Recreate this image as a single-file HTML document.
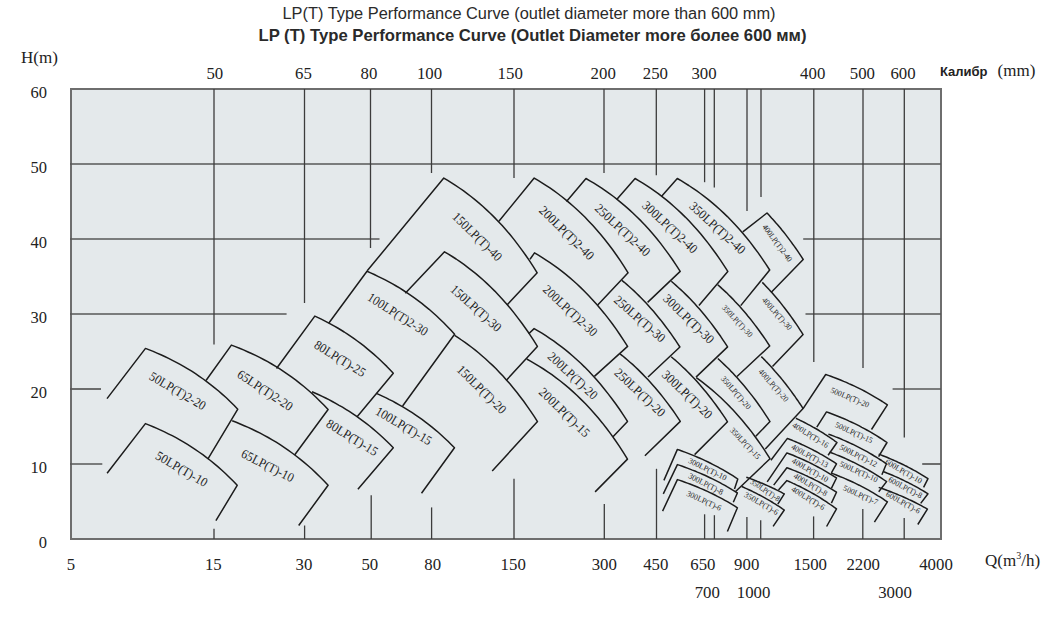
<!DOCTYPE html>
<html><head><meta charset="utf-8"><style>
html,body{margin:0;padding:0;background:#fff;}
body{width:1064px;height:621px;overflow:hidden;position:relative;}
svg{position:absolute;left:0;top:0;}
.t1{position:absolute;font-family:"Liberation Sans",sans-serif;color:#222;white-space:nowrap;}
</style></head><body>
<svg width="1064" height="621" viewBox="0 0 1064 621">
<rect x="71" y="89" width="870" height="450" fill="#e4e9eb" stroke="#6e6e6e" stroke-width="2"/>
<g stroke="#575757" stroke-width="1.7" fill="none">
<line x1="70" y1="164.0" x2="941" y2="164.0"/>
<line x1="70" y1="239.0" x2="379.5" y2="239.0"/>
<line x1="803.2" y1="239.0" x2="941" y2="239.0"/>
<line x1="70" y1="314.0" x2="286.6" y2="314.0"/>
<line x1="805.5" y1="314.0" x2="941" y2="314.0"/>
<line x1="70" y1="389.0" x2="101" y2="389.0"/>
<line x1="892.6" y1="389.0" x2="941" y2="389.0"/>
<line x1="70" y1="464.0" x2="102.3" y2="464.0"/>
<line x1="922.2" y1="464.0" x2="941" y2="464.0"/>
</g><g stroke="#3c3c3c" stroke-width="1.3" fill="none">
<line x1="214" y1="89" x2="214" y2="344.5"/>
<line x1="304.5" y1="89" x2="304.5" y2="303"/>
<line x1="370.5" y1="89" x2="370.5" y2="248"/>
<line x1="431.5" y1="89" x2="431.5" y2="173"/>
<line x1="514" y1="89" x2="514" y2="178"/>
<line x1="604" y1="89" x2="604" y2="173"/>
<line x1="656.3" y1="89" x2="656.3" y2="175.3"/>
<line x1="704.6" y1="89" x2="704.6" y2="182.2"/>
<line x1="714.3" y1="89" x2="714.3" y2="187.4"/>
<line x1="747" y1="89" x2="747" y2="211"/>
<line x1="761" y1="89" x2="761" y2="197"/>
<line x1="813.8" y1="89" x2="813.8" y2="362"/>
<line x1="863" y1="89" x2="863" y2="368"/>
<line x1="904.3" y1="89" x2="904.3" y2="437.6"/>
<line x1="214" y1="528.8" x2="214" y2="539"/>
<line x1="304.6" y1="525.5" x2="304.6" y2="539"/>
<line x1="371.2" y1="495.3" x2="371.2" y2="539"/>
<line x1="431.6" y1="507.4" x2="431.6" y2="539"/>
<line x1="514" y1="478.8" x2="514" y2="539"/>
<line x1="604.3" y1="504" x2="604.3" y2="539"/>
<line x1="656.5" y1="468.8" x2="656.5" y2="539"/>
<line x1="704.6" y1="514.3" x2="704.6" y2="539"/>
<line x1="714.4" y1="515.2" x2="714.4" y2="539"/>
<line x1="746.9" y1="517" x2="746.9" y2="539"/>
<line x1="760.7" y1="520.2" x2="760.7" y2="539"/>
<line x1="813.6" y1="516.4" x2="813.6" y2="539"/>
<line x1="862.8" y1="509.1" x2="862.8" y2="539"/>
<line x1="904.2" y1="518" x2="904.2" y2="539"/>
</g>
<g stroke="#1c1c1c" stroke-width="1.5" fill="none" stroke-linejoin="round">
<polyline points="107.0,398.6 145.5,348.4 149.3,349.9 153.2,351.4 157.0,353.1 160.9,354.8 164.7,356.5 168.6,358.4 172.4,360.3 176.3,362.3 180.1,364.4 184.0,366.6 187.8,368.9 191.7,371.2 195.5,373.7 199.3,376.3 203.2,379.0 207.0,381.8 210.9,384.8 214.7,387.8 218.6,391.0 222.4,394.4 226.3,397.8 230.1,401.5 234.0,405.3 237.8,409.2 207.8,459.1"/>
<polyline points="107.1,473.2 145.4,423.6 149.2,425.1 153.1,426.7 156.9,428.4 160.7,430.1 164.5,431.9 168.3,433.8 172.2,435.7 176.0,437.7 179.8,439.9 183.7,442.1 187.5,444.4 191.3,446.8 195.1,449.3 198.9,452.0 202.8,454.7 206.6,457.6 210.4,460.5 214.2,463.6 218.1,466.9 221.9,470.3 225.7,473.8 229.5,477.5 233.4,481.3 237.2,485.3 215.9,520.7"/>
<polyline points="206.0,380.5 231.4,345.1 235.4,346.6 239.5,348.2 243.5,349.9 247.5,351.7 251.5,353.5 255.6,355.4 259.6,357.4 263.6,359.5 267.7,361.7 271.7,364.0 275.7,366.4 279.8,368.9 283.8,371.6 287.8,374.3 291.8,377.2 295.9,380.1 299.9,383.3 303.9,386.5 308.0,390.0 312.0,393.5 316.0,397.3 320.0,401.2 324.1,405.2 328.1,409.5 294.6,455.0"/>
<polyline points="232.2,420.8 236.2,422.3 240.2,424.0 244.2,425.7 248.2,427.4 252.2,429.3 256.2,431.2 260.2,433.2 264.2,435.3 268.2,437.5 272.2,439.8 276.2,442.2 280.1,444.7 284.1,447.4 288.1,450.1 292.1,453.0 296.1,456.0 300.1,459.1 304.1,462.4 308.1,465.8 312.1,469.3 316.1,473.1 320.1,477.0 324.1,481.0 328.1,485.3 298.7,525.5"/>
<polyline points="276.5,368.5 314.8,316.1 318.1,317.6 321.3,319.2 324.6,320.9 327.9,322.6 331.2,324.3 334.4,326.1 337.7,328.0 341.0,330.0 344.2,332.0 347.5,334.2 350.8,336.4 354.1,338.6 357.3,341.0 360.6,343.4 363.9,345.9 367.1,348.6 370.4,351.3 373.7,354.1 376.9,357.0 380.2,360.0 383.5,363.2 386.8,366.4 390.0,369.8 393.3,373.3 357.1,416.8"/>
<polyline points="312.0,391.8 315.4,393.3 318.8,394.8 322.2,396.4 325.6,398.0 328.9,399.7 332.3,401.5 335.7,403.3 339.1,405.3 342.5,407.2 345.9,409.3 349.3,411.4 352.6,413.6 356.0,415.9 359.4,418.3 362.8,420.8 366.2,423.4 369.6,426.0 373.0,428.8 376.4,431.7 379.8,434.7 383.1,437.8 386.5,441.0 389.9,444.3 393.3,447.8 357.9,489.3"/>
<polyline points="328.7,323.3 367.0,271.3 370.6,272.9 374.3,274.5 377.9,276.3 381.6,278.1 385.2,279.9 388.9,281.9 392.6,283.9 396.2,286.0 399.9,288.2 403.5,290.5 407.1,292.9 410.8,295.4 414.4,297.9 418.1,300.6 421.8,303.4 425.4,306.3 429.1,309.3 432.7,312.5 436.4,315.8 440.0,319.2 443.7,322.7 447.3,326.4 451.0,330.3 454.6,334.3 402.6,406.0"/>
<polyline points="376.4,393.4 379.7,394.9 382.9,396.4 386.2,397.9 389.4,399.6 392.7,401.2 395.9,403.0 399.2,404.8 402.4,406.7 405.7,408.6 408.9,410.6 412.2,412.7 415.4,414.8 418.7,417.1 422.0,419.4 425.2,421.8 428.5,424.3 431.7,426.9 435.0,429.6 438.2,432.3 441.5,435.2 444.7,438.2 448.0,441.3 451.2,444.5 454.5,447.8 421.5,493.3"/>
<polyline points="367.2,270.8 443.8,178.1 447.7,180.4 451.6,182.8 455.5,185.3 459.4,188.0 463.3,190.7 467.2,193.6 471.0,196.5 474.9,199.7 478.8,202.9 482.7,206.3 486.6,209.9 490.5,213.5 494.4,217.4 498.3,221.4 502.2,225.6 506.1,230.0 510.0,234.6 513.9,239.4 517.7,244.4 521.6,249.6 525.5,255.0 529.4,260.7 533.3,266.6 537.2,272.8 507.0,305.0"/>
<polyline points="405.3,293.2 444.5,251.8 448.4,254.1 452.2,256.5 456.1,259.0 460.0,261.7 463.9,264.4 467.7,267.3 471.6,270.3 475.5,273.4 479.3,276.6 483.2,280.0 487.1,283.6 490.9,287.3 494.8,291.1 498.7,295.2 502.6,299.4 506.4,303.7 510.3,308.3 514.2,313.1 518.0,318.1 521.9,323.3 525.8,328.7 529.7,334.3 533.5,340.2 537.4,346.4 506.4,380.2"/>
<polyline points="454.6,335.4 458.1,337.6 461.5,340.0 465.0,342.4 468.4,344.9 471.9,347.5 475.3,350.2 478.8,353.0 482.2,356.0 485.7,359.0 489.1,362.2 492.6,365.4 496.1,368.8 499.5,372.4 503.0,376.1 506.4,379.9 509.9,383.8 513.3,387.9 516.8,392.2 520.2,396.7 523.7,401.3 527.1,406.1 530.6,411.1 534.0,416.2 537.5,421.6 492.2,470.9"/>
<polyline points="498.9,221.2 534.2,178.1 538.1,180.4 542.0,182.8 545.9,185.3 549.9,187.9 553.8,190.7 557.7,193.5 561.6,196.5 565.5,199.6 569.4,202.9 573.3,206.3 577.2,209.8 581.2,213.5 585.1,217.3 589.0,221.4 592.9,225.6 596.8,230.0 600.7,234.6 604.6,239.3 608.5,244.3 612.5,249.5 616.4,255.0 620.3,260.7 624.2,266.6 628.1,272.8 597.7,305.0"/>
<polyline points="530.0,259.3 534.5,252.9 538.4,255.2 542.3,257.6 546.1,260.1 550.0,262.7 553.9,265.4 557.8,268.2 561.7,271.1 565.5,274.2 569.4,277.4 573.3,280.8 577.2,284.3 581.0,287.9 584.9,291.7 588.8,295.7 592.7,299.9 596.6,304.2 600.4,308.7 604.3,313.4 608.2,318.4 612.1,323.5 616.0,328.9 619.8,334.5 623.7,340.3 627.6,346.4 594.4,376.4"/>
<polyline points="528.7,333.8 534.1,328.6 538.0,330.9 541.9,333.2 545.8,335.7 549.7,338.3 553.6,340.9 557.5,343.8 561.3,346.7 565.2,349.7 569.1,352.9 573.0,356.2 576.9,359.7 580.8,363.3 584.7,367.1 588.6,371.1 592.5,375.2 596.4,379.5 600.3,384.0 604.1,388.7 608.0,393.6 611.9,398.7 615.8,404.0 619.7,409.5 623.6,415.3 627.5,421.4 613.0,436.8"/>
<polyline points="526.7,359.0 530.9,361.3 535.1,363.8 539.3,366.3 543.5,369.0 547.7,371.8 551.9,374.7 556.1,377.8 560.3,381.0 564.5,384.4 568.7,387.9 572.9,391.6 577.1,395.5 581.3,399.6 585.5,403.8 589.7,408.3 593.9,412.9 598.1,417.8 602.3,422.9 606.5,428.3 610.7,433.9 614.9,439.8 619.1,445.9 623.3,452.4 627.5,459.1 595.1,491.9"/>
<polyline points="566.5,201.5 586.0,178.5 589.9,180.8 593.9,183.1 597.8,185.6 601.7,188.1 605.6,190.8 609.5,193.6 613.5,196.5 617.4,199.6 621.3,202.8 625.2,206.1 629.2,209.6 633.1,213.2 637.0,217.0 641.0,220.9 644.9,225.0 648.8,229.3 652.7,233.8 656.7,238.5 660.6,243.4 664.5,248.6 668.4,253.9 672.4,259.5 676.3,265.3 680.2,271.4 647.6,302.4"/>
<polyline points="621.9,280.3 624.3,282.3 626.7,284.4 629.1,286.5 631.6,288.7 634.0,290.9 636.4,293.2 638.8,295.6 641.2,298.0 643.6,300.5 646.1,303.1 648.5,305.7 650.9,308.4 653.3,311.1 655.7,314.0 658.1,316.9 660.6,319.9 663.0,323.0 665.4,326.2 667.8,329.4 670.2,332.7 672.6,336.2 675.1,339.7 677.5,343.3 679.9,347.0 648.0,377.0"/>
<polyline points="620.0,353.8 622.5,355.8 625.0,357.9 627.5,360.0 630.0,362.2 632.6,364.4 635.1,366.8 637.6,369.1 640.1,371.6 642.6,374.1 645.1,376.7 647.6,379.3 650.1,382.0 652.7,384.9 655.2,387.7 657.7,390.7 660.2,393.7 662.7,396.9 665.2,400.1 667.7,403.4 670.2,406.8 672.8,410.3 675.3,413.9 677.8,417.6 680.3,421.4 644.9,455.7"/>
<polyline points="616.7,199.5 635.1,178.5 639.0,180.8 642.8,183.1 646.7,185.6 650.5,188.2 654.4,190.9 658.3,193.7 662.1,196.7 666.0,199.7 669.9,202.9 673.7,206.2 677.6,209.7 681.5,213.4 685.3,217.1 689.2,221.1 693.0,225.2 696.9,229.5 700.8,234.0 704.6,238.7 708.5,243.6 712.3,248.7 716.2,254.0 720.1,259.6 723.9,265.4 727.8,271.4 698.9,305.5"/>
<polyline points="671.3,281.3 673.6,283.3 676.0,285.4 678.3,287.5 680.7,289.6 683.0,291.8 685.4,294.1 687.7,296.4 690.1,298.8 692.4,301.3 694.8,303.8 697.1,306.4 699.5,309.1 701.8,311.8 704.1,314.6 706.5,317.5 708.8,320.4 711.2,323.4 713.5,326.5 715.9,329.7 718.2,333.0 720.6,336.3 722.9,339.8 725.3,343.3 727.6,346.9 696.0,377.1"/>
<polyline points="671.2,356.7 673.5,358.7 675.9,360.7 678.2,362.8 680.6,365.0 682.9,367.2 685.3,369.4 687.6,371.7 690.0,374.1 692.3,376.5 694.7,379.0 697.0,381.6 699.4,384.3 701.7,387.0 704.0,389.7 706.4,392.6 708.7,395.5 711.1,398.5 713.4,401.6 715.8,404.7 718.1,408.0 720.5,411.3 722.8,414.7 725.2,418.2 727.5,421.8 694.6,454.6"/>
<polyline points="661.4,196.6 677.3,178.5 681.1,180.7 685.0,183.1 688.8,185.5 692.7,188.1 696.5,190.7 700.4,193.5 704.2,196.4 708.1,199.4 712.0,202.6 715.8,205.9 719.6,209.3 723.5,212.9 727.4,216.6 731.2,220.5 735.0,224.6 738.9,228.8 742.8,233.2 746.6,237.8 750.5,242.6 754.3,247.7 758.2,252.9 762.0,258.4 765.9,264.1 769.7,270.0 740.7,305.6"/>
<polyline points="717.7,284.7 719.9,286.6 722.0,288.6 724.2,290.6 726.4,292.6 728.5,294.8 730.7,296.9 732.9,299.1 735.0,301.4 737.2,303.7 739.4,306.1 741.5,308.5 743.7,311.0 745.9,313.5 748.0,316.2 750.2,318.8 752.4,321.6 754.5,324.4 756.7,327.2 758.9,330.2 761.0,333.2 763.2,336.3 765.4,339.4 767.5,342.7 769.7,346.0 737.0,376.5"/>
<polyline points="717.8,358.5 720.0,360.5 722.1,362.5 724.3,364.6 726.5,366.7 728.7,368.8 730.8,371.1 733.0,373.3 735.2,375.7 737.4,378.0 739.5,380.5 741.7,383.0 743.9,385.6 746.1,388.2 748.2,390.9 750.4,393.6 752.6,396.4 754.8,399.3 757.0,402.3 759.1,405.3 761.3,408.4 763.5,411.6 765.6,414.9 767.8,418.2 770.0,421.6 755.8,436.2"/>
<polyline points="696.3,377.7 699.4,379.9 702.4,382.2 705.5,384.6 708.6,387.1 711.7,389.6 714.7,392.3 717.8,395.0 720.9,397.8 723.9,400.7 727.0,403.8 730.1,406.9 733.1,410.1 736.2,413.4 739.3,416.9 742.4,420.5 745.4,424.2 748.5,428.0 751.6,431.9 754.6,436.0 757.7,440.3 760.8,444.6 763.9,449.2 766.9,453.9 770.0,458.7 735.6,491.5"/>
<polyline points="742.8,231.9 767.0,213.0 768.5,214.6 770.0,216.2 771.5,217.9 773.0,219.5 774.5,221.2 776.0,223.0 777.6,224.7 779.1,226.5 780.6,228.3 782.1,230.2 783.6,232.0 785.1,233.9 786.6,235.9 788.1,237.9 789.6,239.9 791.1,241.9 792.6,244.0 794.2,246.1 795.7,248.2 797.2,250.4 798.7,252.6 800.2,254.9 801.7,257.2 803.2,259.5 771.3,292.3"/>
<polyline points="762.3,282.4 764.0,284.1 765.7,285.9 767.4,287.7 769.1,289.6 770.8,291.4 772.5,293.3 774.2,295.3 775.9,297.3 777.6,299.3 779.3,301.3 781.0,303.4 782.7,305.6 784.4,307.8 786.1,310.0 787.8,312.2 789.5,314.5 791.2,316.9 792.9,319.3 794.6,321.7 796.3,324.2 798.0,326.7 799.7,329.3 801.4,331.9 803.1,334.6 772.5,366.5"/>
<polyline points="761.3,356.6 763.0,358.3 764.8,360.1 766.5,361.9 768.3,363.7 770.0,365.6 771.8,367.5 773.5,369.4 775.2,371.4 777.0,373.4 778.7,375.4 780.5,377.5 782.2,379.6 783.9,381.8 785.7,384.0 787.4,386.3 789.2,388.6 790.9,390.9 792.6,393.3 794.4,395.7 796.1,398.2 797.9,400.7 799.6,403.3 801.4,405.9 803.1,408.6 765.3,448.9"/>
<polyline points="663.9,480.4 677.4,449.4 679.9,450.3 682.4,451.2 684.9,452.1 687.5,453.1 690.0,454.1 692.5,455.1 695.0,456.1 697.5,457.2 700.0,458.3 702.6,459.4 705.1,460.6 707.6,461.8 710.1,463.0 712.6,464.3 715.1,465.6 717.7,466.9 720.2,468.3 722.7,469.7 725.2,471.1 727.7,472.6 730.2,474.1 732.8,475.7 735.3,477.3 737.8,479.0 734.5,489.0"/>
<polyline points="663.3,493.9 677.4,464.6 679.9,465.4 682.4,466.3 684.9,467.2 687.4,468.1 689.9,469.1 692.4,470.1 694.9,471.0 697.4,472.1 699.9,473.1 702.4,474.2 704.9,475.3 707.4,476.5 709.9,477.7 712.4,478.9 714.9,480.1 717.4,481.4 719.9,482.7 722.4,484.1 724.9,485.4 727.4,486.9 729.9,488.3 732.4,489.9 734.9,491.4 737.4,493.0 733.3,502.2"/>
<polyline points="662.6,511.1 677.4,479.6 679.9,480.4 682.4,481.3 684.9,482.2 687.4,483.1 689.9,484.0 692.4,485.0 694.9,486.0 697.4,487.0 699.9,488.1 702.4,489.1 704.9,490.3 707.4,491.4 709.9,492.6 712.4,493.8 714.9,495.0 717.4,496.3 719.9,497.6 722.4,498.9 724.9,500.3 727.4,501.7 729.9,503.2 732.4,504.7 734.9,506.2 737.4,507.8 727.4,531.5"/>
<polyline points="746.3,477.2 747.9,477.8 749.5,478.3 751.0,478.9 752.6,479.5 754.2,480.1 755.8,480.7 757.4,481.4 759.0,482.0 760.5,482.7 762.1,483.3 763.7,484.0 765.3,484.7 766.9,485.4 768.5,486.1 770.0,486.8 771.6,487.5 773.2,488.3 774.8,489.0 776.4,489.8 778.0,490.6 779.5,491.4 781.1,492.2 782.7,493.1 784.3,493.9 777.8,504.1"/>
<polyline points="741.7,486.5 743.5,487.3 745.2,488.1 747.0,488.9 748.8,489.7 750.6,490.5 752.4,491.4 754.1,492.3 755.9,493.1 757.7,494.1 759.5,495.0 761.2,495.9 763.0,496.9 764.8,497.9 766.5,498.9 768.3,499.9 770.1,500.9 771.9,502.0 773.6,503.1 775.4,504.2 777.2,505.3 779.0,506.4 780.8,507.6 782.5,508.8 784.3,510.0 773.1,526.3"/>
<polyline points="795.9,418.3 797.6,419.1 799.3,419.9 801.0,420.8 802.8,421.6 804.5,422.5 806.2,423.4 807.9,424.3 809.6,425.2 811.3,426.1 813.0,427.1 814.7,428.0 816.5,429.0 818.2,430.0 819.9,431.1 821.6,432.1 823.3,433.2 825.0,434.3 826.7,435.4 828.4,436.5 830.1,437.7 831.9,438.8 833.6,440.0 835.3,441.3 837.0,442.5 828.1,455.3"/>
<polyline points="770.9,460.2 787.4,438.4 789.4,439.2 791.5,440.0 793.5,440.9 795.6,441.7 797.6,442.6 799.7,443.5 801.7,444.5 803.8,445.4 805.8,446.4 807.9,447.4 809.9,448.4 812.0,449.4 814.0,450.5 816.0,451.5 818.1,452.6 820.1,453.8 822.2,454.9 824.2,456.1 826.3,457.3 828.3,458.6 830.4,459.8 832.4,461.1 834.5,462.4 836.5,463.8 831.4,472.9"/>
<polyline points="767.2,481.9 786.9,452.9 789.0,453.7 791.0,454.5 793.1,455.3 795.2,456.2 797.2,457.1 799.3,458.0 801.4,458.9 803.4,459.8 805.5,460.8 807.6,461.7 809.6,462.7 811.7,463.7 813.8,464.8 815.8,465.9 817.9,467.0 820.0,468.1 822.0,469.2 824.1,470.4 826.2,471.6 828.2,472.8 830.3,474.1 832.4,475.3 834.4,476.7 836.5,478.0 831.4,488.3"/>
<polyline points="773.7,485.1 786.9,467.7 789.0,468.5 791.0,469.3 793.1,470.1 795.2,470.9 797.2,471.8 799.3,472.6 801.4,473.5 803.4,474.4 805.5,475.4 807.6,476.3 809.6,477.3 811.7,478.3 813.8,479.3 815.8,480.4 817.9,481.4 820.0,482.5 822.0,483.6 824.1,484.8 826.2,485.9 828.2,487.1 830.3,488.4 832.4,489.6 834.4,490.9 836.5,492.2 831.4,503.1"/>
<polyline points="778.5,489.9 786.9,480.6 789.0,481.5 791.0,482.4 793.1,483.4 795.2,484.3 797.2,485.3 799.3,486.3 801.4,487.3 803.4,488.4 805.5,489.5 807.6,490.6 809.6,491.7 811.7,492.8 813.8,494.0 815.8,495.2 817.9,496.4 820.0,497.7 822.0,499.0 824.1,500.3 826.2,501.7 828.2,503.1 830.3,504.5 832.4,505.9 834.4,507.4 836.5,508.9 826.6,526.5"/>
<polyline points="803.1,408.6 825.7,374.5 828.3,375.4 830.8,376.3 833.4,377.3 836.0,378.2 838.6,379.3 841.1,380.3 843.7,381.4 846.3,382.4 848.8,383.6 851.4,384.7 854.0,385.9 856.5,387.1 859.1,388.4 861.7,389.7 864.3,391.0 866.8,392.4 869.4,393.8 872.0,395.3 874.5,396.8 877.1,398.3 879.7,399.9 882.3,401.5 884.8,403.2 887.4,404.9 871.5,429.5"/>
<polyline points="816.8,427.2 826.5,411.9 829.0,412.8 831.5,413.7 834.1,414.7 836.6,415.7 839.1,416.7 841.6,417.8 844.1,418.8 846.7,419.9 849.2,421.1 851.7,422.2 854.2,423.4 856.8,424.7 859.3,425.9 861.8,427.3 864.3,428.6 866.8,430.0 869.4,431.4 871.9,432.8 874.4,434.3 876.9,435.9 879.4,437.5 882.0,439.1 884.5,440.8 887.0,442.5 878.6,456.7"/>
<polyline points="828.4,434.1 830.8,435.0 833.2,435.9 835.6,436.9 838.1,437.8 840.5,438.8 842.9,439.9 845.3,440.9 847.7,442.0 850.1,443.1 852.6,444.2 855.0,445.4 857.4,446.6 859.8,447.8 862.2,449.1 864.6,450.4 867.1,451.7 869.5,453.1 871.9,454.5 874.3,456.0 876.7,457.4 879.1,459.0 881.6,460.5 884.0,462.1 886.4,463.8 881.9,474.7"/>
<polyline points="829.5,452.1 831.9,453.0 834.3,453.9 836.6,454.9 839.0,455.8 841.4,456.8 843.8,457.8 846.2,458.9 848.5,460.0 850.9,461.1 853.3,462.2 855.7,463.4 858.0,464.6 860.4,465.8 862.8,467.0 865.2,468.3 867.6,469.7 869.9,471.0 872.3,472.4 874.7,473.8 877.1,475.3 879.5,476.8 881.8,478.4 884.2,480.0 886.6,481.6 878.7,491.8"/>
<polyline points="831.0,473.0 833.4,473.9 835.7,474.8 838.0,475.7 840.4,476.7 842.8,477.6 845.1,478.6 847.5,479.7 849.8,480.7 852.1,481.8 854.5,482.9 856.9,484.1 859.2,485.2 861.5,486.4 863.9,487.7 866.2,488.9 868.6,490.2 871.0,491.6 873.3,492.9 875.6,494.3 878.0,495.8 880.4,497.2 882.7,498.7 885.0,500.3 887.4,501.9 874.4,522.2"/>
<polyline points="878.7,454.1 880.8,454.9 882.8,455.7 884.9,456.5 886.9,457.3 889.0,458.2 891.0,459.1 893.1,460.0 895.1,460.9 897.2,461.8 899.2,462.8 901.3,463.7 903.4,464.7 905.4,465.8 907.5,466.8 909.5,467.9 911.6,469.0 913.6,470.1 915.7,471.2 917.7,472.4 919.8,473.6 921.8,474.8 923.9,476.1 925.9,477.4 928.0,478.7 923.6,487.4"/>
<polyline points="883.1,471.5 885.0,472.2 886.8,473.0 888.7,473.7 890.6,474.5 892.5,475.3 894.3,476.1 896.2,476.9 898.1,477.7 899.9,478.6 901.8,479.5 903.7,480.4 905.5,481.3 907.4,482.2 909.3,483.2 911.2,484.1 913.0,485.1 914.9,486.1 916.8,487.2 918.6,488.2 920.5,489.3 922.4,490.4 924.3,491.5 926.1,492.6 928.0,493.8 920.7,503.4"/>
<polyline points="878.7,487.4 880.7,488.1 882.8,488.8 884.8,489.5 886.8,490.3 888.8,491.0 890.9,491.8 892.9,492.6 894.9,493.4 897.0,494.2 899.0,495.1 901.0,495.9 903.0,496.8 905.1,497.7 907.1,498.6 909.1,499.6 911.2,500.5 913.2,501.5 915.2,502.5 917.3,503.6 919.3,504.6 921.3,505.7 923.3,506.8 925.4,507.9 927.4,509.1 917.8,524.5"/>
</g>
<g fill="#222">
<text x="47" y="547.5" font-size="16.5" text-anchor="end" font-family='"Liberation Serif", serif' font-weight="normal" >0</text>
<text x="47" y="472.5" font-size="16.5" text-anchor="end" font-family='"Liberation Serif", serif' font-weight="normal" >10</text>
<text x="47" y="397.5" font-size="16.5" text-anchor="end" font-family='"Liberation Serif", serif' font-weight="normal" >20</text>
<text x="47" y="322.5" font-size="16.5" text-anchor="end" font-family='"Liberation Serif", serif' font-weight="normal" >30</text>
<text x="47" y="247.5" font-size="16.5" text-anchor="end" font-family='"Liberation Serif", serif' font-weight="normal" >40</text>
<text x="47" y="172.5" font-size="16.5" text-anchor="end" font-family='"Liberation Serif", serif' font-weight="normal" >50</text>
<text x="47" y="97.5" font-size="16.5" text-anchor="end" font-family='"Liberation Serif", serif' font-weight="normal" >60</text>
<text x="39.5" y="63" font-size="17" text-anchor="middle" font-family='"Liberation Serif", serif' font-weight="normal" >H(m)</text>
<text x="214.8" y="78.7" font-size="16.8" text-anchor="middle" font-family='"Liberation Serif", serif' font-weight="normal" >50</text>
<text x="303.5" y="78.7" font-size="16.8" text-anchor="middle" font-family='"Liberation Serif", serif' font-weight="normal" >65</text>
<text x="369" y="78.7" font-size="16.8" text-anchor="middle" font-family='"Liberation Serif", serif' font-weight="normal" >80</text>
<text x="429.5" y="78.7" font-size="16.8" text-anchor="middle" font-family='"Liberation Serif", serif' font-weight="normal" >100</text>
<text x="510.2" y="78.7" font-size="16.8" text-anchor="middle" font-family='"Liberation Serif", serif' font-weight="normal" >150</text>
<text x="603.2" y="78.7" font-size="16.8" text-anchor="middle" font-family='"Liberation Serif", serif' font-weight="normal" >200</text>
<text x="655.4" y="78.7" font-size="16.8" text-anchor="middle" font-family='"Liberation Serif", serif' font-weight="normal" >250</text>
<text x="704" y="78.7" font-size="16.8" text-anchor="middle" font-family='"Liberation Serif", serif' font-weight="normal" >300</text>
<text x="812.7" y="78.7" font-size="16.8" text-anchor="middle" font-family='"Liberation Serif", serif' font-weight="normal" >400</text>
<text x="862.4" y="78.7" font-size="16.8" text-anchor="middle" font-family='"Liberation Serif", serif' font-weight="normal" >500</text>
<text x="903" y="78.7" font-size="16.8" text-anchor="middle" font-family='"Liberation Serif", serif' font-weight="normal" >600</text>
<text x="71" y="570" font-size="16.8" text-anchor="middle" font-family='"Liberation Serif", serif' font-weight="normal" >5</text>
<text x="213.3" y="570" font-size="16.8" text-anchor="middle" font-family='"Liberation Serif", serif' font-weight="normal" >15</text>
<text x="303.9" y="570" font-size="16.8" text-anchor="middle" font-family='"Liberation Serif", serif' font-weight="normal" >30</text>
<text x="369.8" y="570" font-size="16.8" text-anchor="middle" font-family='"Liberation Serif", serif' font-weight="normal" >50</text>
<text x="432.7" y="570" font-size="16.8" text-anchor="middle" font-family='"Liberation Serif", serif' font-weight="normal" >80</text>
<text x="513.2" y="570" font-size="16.8" text-anchor="middle" font-family='"Liberation Serif", serif' font-weight="normal" >150</text>
<text x="604.3" y="570" font-size="16.8" text-anchor="middle" font-family='"Liberation Serif", serif' font-weight="normal" >300</text>
<text x="655.8" y="570" font-size="16.8" text-anchor="middle" font-family='"Liberation Serif", serif' font-weight="normal" >450</text>
<text x="702.9" y="570" font-size="16.8" text-anchor="middle" font-family='"Liberation Serif", serif' font-weight="normal" >650</text>
<text x="746.7" y="570" font-size="16.8" text-anchor="middle" font-family='"Liberation Serif", serif' font-weight="normal" >900</text>
<text x="810.2" y="570" font-size="16.8" text-anchor="middle" font-family='"Liberation Serif", serif' font-weight="normal" >1500</text>
<text x="863.2" y="570" font-size="16.8" text-anchor="middle" font-family='"Liberation Serif", serif' font-weight="normal" >2200</text>
<text x="936" y="570" font-size="16.8" text-anchor="middle" font-family='"Liberation Serif", serif' font-weight="normal" >4000</text>
<text x="707.3" y="598.2" font-size="16.8" text-anchor="middle" font-family='"Liberation Serif", serif' font-weight="normal" >700</text>
<text x="753.6" y="598.2" font-size="16.8" text-anchor="middle" font-family='"Liberation Serif", serif' font-weight="normal" >1000</text>
<text x="895" y="598.2" font-size="16.8" text-anchor="middle" font-family='"Liberation Serif", serif' font-weight="normal" >3000</text>
<text x="985" y="566" font-size="17" font-family='"Liberation Serif", serif'>Q(m<tspan font-size="10" dy="-7">3</tspan><tspan dy="7">/h)</tspan></text>
<text x="940" y="76.4" font-size="13" font-family='"Liberation Sans", sans-serif' font-weight="bold">Калибр</text>
<text x="997.6" y="76.4" font-size="17" font-family='"Liberation Serif", serif'>(mm)</text>
</g>
<g fill="#2a2a2a" font-family='"Liberation Sans", sans-serif'>
<text x="282.5" y="18.8" font-size="15.8" textLength="493" lengthAdjust="spacingAndGlyphs">LP(T) Type Performance Curve (outlet diameter more than 600 mm)</text>
<text x="258.5" y="40.7" font-size="17" font-weight="bold" textLength="548" lengthAdjust="spacingAndGlyphs">LP (T) Type Performance Curve (Outlet Diameter more более 600 мм)</text>
</g>
<g fill="#1e1e1e" font-family='"Liberation Serif", serif'>
<text transform="translate(148.3,378.7) rotate(30.3)" font-size="13" textLength="63.0" lengthAdjust="spacingAndGlyphs">50LP(T)2-20</text>
<text transform="translate(154.4,458.3) rotate(30.0)" font-size="13" textLength="57.9" lengthAdjust="spacingAndGlyphs">50LP(T)-10</text>
<text transform="translate(236.20000000000002,376.5) rotate(33.3)" font-size="13" textLength="63.6" lengthAdjust="spacingAndGlyphs">65LP(T)2-20</text>
<text transform="translate(240.20000000000002,456.6) rotate(26.9)" font-size="13" textLength="57.3" lengthAdjust="spacingAndGlyphs">65LP(T)-10</text>
<text transform="translate(313.2,347.2) rotate(31.6)" font-size="13" textLength="57.7" lengthAdjust="spacingAndGlyphs">80LP(T)-25</text>
<text transform="translate(325.2,426.1) rotate(31.4)" font-size="13" textLength="58.0" lengthAdjust="spacingAndGlyphs">80LP(T)-15</text>
<text transform="translate(366.59999999999997,299.5) rotate(32.6)" font-size="13" textLength="68.6" lengthAdjust="spacingAndGlyphs">100LP(T)2-30</text>
<text transform="translate(374.5,413.7) rotate(30.4)" font-size="13" textLength="62.9" lengthAdjust="spacingAndGlyphs">100LP(T)-15</text>
<text transform="translate(451.4,217.5) rotate(44.2)" font-size="13" textLength="63.8" lengthAdjust="spacingAndGlyphs">150LP(T)-40</text>
<text transform="translate(449.5,290.40000000000003) rotate(41.7)" font-size="13" textLength="63.4" lengthAdjust="spacingAndGlyphs">150LP(T)-30</text>
<text transform="translate(455.9,370.40000000000003) rotate(44.2)" font-size="13" textLength="63.5" lengthAdjust="spacingAndGlyphs">150LP(T)-20</text>
<text transform="translate(538.3,211.20000000000002) rotate(44.3)" font-size="13" textLength="71.0" lengthAdjust="spacingAndGlyphs">200LP(T)2-40</text>
<text transform="translate(542.0,290.6) rotate(42.7)" font-size="13" textLength="68.9" lengthAdjust="spacingAndGlyphs">200LP(T)2-30</text>
<text transform="translate(546.8,357.40000000000003) rotate(43.0)" font-size="13" textLength="62.9" lengthAdjust="spacingAndGlyphs">200LP(T)-20</text>
<text transform="translate(538.1,393.1) rotate(43.9)" font-size="13" textLength="64.9" lengthAdjust="spacingAndGlyphs">200LP(T)-15</text>
<text transform="translate(593.9,209.3) rotate(42.8)" font-size="13" textLength="70.3" lengthAdjust="spacingAndGlyphs">250LP(T)2-40</text>
<text transform="translate(612.9,301.2) rotate(41.1)" font-size="13" textLength="63.6" lengthAdjust="spacingAndGlyphs">250LP(T)-30</text>
<text transform="translate(613.5,373.8) rotate(43.1)" font-size="13" textLength="64.3" lengthAdjust="spacingAndGlyphs">250LP(T)-20</text>
<text transform="translate(641.1999999999999,206.4) rotate(42.8)" font-size="13" textLength="70.3" lengthAdjust="spacingAndGlyphs">300LP(T)2-40</text>
<text transform="translate(662.3,299.6) rotate(43.9)" font-size="13" textLength="64.9" lengthAdjust="spacingAndGlyphs">300LP(T)-30</text>
<text transform="translate(661.1,375.7) rotate(43.4)" font-size="13" textLength="63.8" lengthAdjust="spacingAndGlyphs">300LP(T)-20</text>
<text transform="translate(688.5,207.3) rotate(42.4)" font-size="13" textLength="70.7" lengthAdjust="spacingAndGlyphs">350LP(T)2-40</text>
<text transform="translate(761.9,226.9) rotate(53.4)" font-size="8.2" textLength="44.2" lengthAdjust="spacingAndGlyphs">400LP(T)2-40</text>
<text transform="translate(721.4,307.90000000000003) rotate(46.8)" font-size="8.2" textLength="40.9" lengthAdjust="spacingAndGlyphs">350LP(T)-30</text>
<text transform="translate(761.4,300.2) rotate(48.3)" font-size="8.2" textLength="40.8" lengthAdjust="spacingAndGlyphs">400LP(T)-30</text>
<text transform="translate(720.5,378.90000000000003) rotate(49.0)" font-size="8.2" textLength="41.1" lengthAdjust="spacingAndGlyphs">350LP(T)-20</text>
<text transform="translate(758.1,372.1) rotate(48.2)" font-size="8.2" textLength="40.6" lengthAdjust="spacingAndGlyphs">400LP(T)-20</text>
<text transform="translate(729.4,430.7) rotate(46.3)" font-size="8.2" textLength="40.3" lengthAdjust="spacingAndGlyphs">350LP(T)-15</text>
<text transform="translate(687.7,462.6) rotate(25.9)" font-size="8.2" textLength="41.5" lengthAdjust="spacingAndGlyphs">300LP(T)-10</text>
<text transform="translate(687.7,477.6) rotate(27.1)" font-size="8.2" textLength="38.1" lengthAdjust="spacingAndGlyphs">300LP(T)-8</text>
<text transform="translate(686,495.40000000000003) rotate(24.6)" font-size="8.2" textLength="37.3" lengthAdjust="spacingAndGlyphs">300LP(T)-6</text>
<text transform="translate(749.8,482.90000000000003) rotate(34.2)" font-size="8.2" textLength="33.7" lengthAdjust="spacingAndGlyphs">350LP(T)-8</text>
<text transform="translate(743.6,496.2) rotate(29.9)" font-size="8.2" textLength="38.0" lengthAdjust="spacingAndGlyphs">350LP(T)-6</text>
<text transform="translate(829.9,392.2) rotate(22.4)" font-size="8.2" textLength="41.1" lengthAdjust="spacingAndGlyphs">500LP(T)-20</text>
<text transform="translate(834.4,426.8) rotate(24.1)" font-size="8.2" textLength="40.5" lengthAdjust="spacingAndGlyphs">500LP(T)-15</text>
<text transform="translate(791.8,426.8) rotate(31.6)" font-size="8.2" textLength="40.8" lengthAdjust="spacingAndGlyphs">400LP(T)-16</text>
<text transform="translate(839,449.0) rotate(26.4)" font-size="8.2" textLength="40.8" lengthAdjust="spacingAndGlyphs">500LP(T)-12</text>
<text transform="translate(790.7,448.6) rotate(28.4)" font-size="8.2" textLength="40.7" lengthAdjust="spacingAndGlyphs">400LP(T)-13</text>
<text transform="translate(839,466.0) rotate(23.8)" font-size="8.2" textLength="40.8" lengthAdjust="spacingAndGlyphs">500LP(T)-10</text>
<text transform="translate(842.6,490.1) rotate(23.8)" font-size="8.2" textLength="37.0" lengthAdjust="spacingAndGlyphs">500LP(T)-7</text>
<text transform="translate(884.4,463.5) rotate(29.7)" font-size="8.2" textLength="41.2" lengthAdjust="spacingAndGlyphs">600LP(T)-10</text>
<text transform="translate(887.7,481.3) rotate(27.9)" font-size="8.2" textLength="36.9" lengthAdjust="spacingAndGlyphs">600LP(T)-8</text>
<text transform="translate(885.2,495.8) rotate(28.5)" font-size="8.2" textLength="37.8" lengthAdjust="spacingAndGlyphs">600LP(T)-6</text>
<text transform="translate(791.3,462.5) rotate(29.5)" font-size="8.2" textLength="40.4" lengthAdjust="spacingAndGlyphs">400LP(T)-10</text>
<text transform="translate(793.1,477.6) rotate(30.2)" font-size="8.2" textLength="37.4" lengthAdjust="spacingAndGlyphs">400LP(T)-8</text>
<text transform="translate(790.7,490.8) rotate(31.1)" font-size="8.2" textLength="37.7" lengthAdjust="spacingAndGlyphs">400LP(T)-6</text>
</g>
</svg>
</body></html>
